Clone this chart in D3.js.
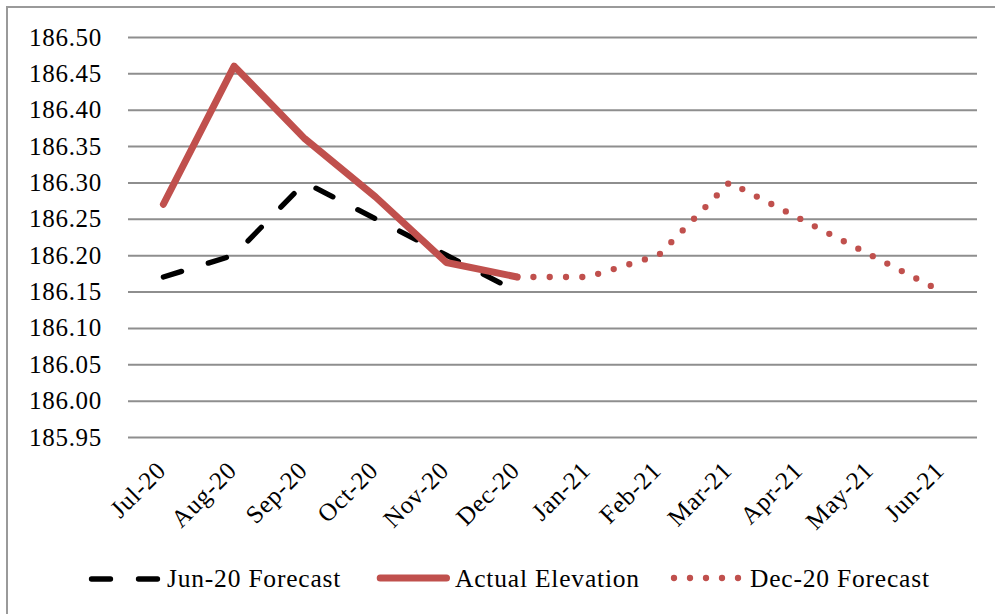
<!DOCTYPE html>
<html>
<head>
<meta charset="utf-8">
<script src="https://cdn.jsdelivr.net/npm/d3@7/dist/d3.min.js"></script>
<style>
  html, body { margin: 0; padding: 0; background: #fff; }
  svg { display: block; }
  text { font-family: "Liberation Serif", "DejaVu Serif", serif; font-size: 25px; fill: #000; letter-spacing: 0.7px; }
  .legend text { font-size: 25.5px; letter-spacing: 0.8px; }
</style>
</head>
<body>
<svg id="chart" width="995" height="614"></svg>
<script>
// Monthly lake elevation (ft): actual readings and two forecast runs
const months = ["Jul-20", "Aug-20", "Sep-20", "Oct-20", "Nov-20", "Dec-20",
                "Jan-21", "Feb-21", "Mar-21", "Apr-21", "May-21", "Jun-21"];

const jun20Forecast = [186.17, 186.20, 186.30, 186.25, 186.20, 186.15,
                       null, null, null, null, null, null];
const actualElevation = [186.27, 186.46, 186.36, 186.28, 186.19, 186.17,
                         null, null, null, null, null, null];
const dec20Forecast = [null, null, null, null, null, 186.17,
                       186.17, 186.20, 186.30, 186.25, 186.20, 186.15];

const yTicks = [185.95, 186.00, 186.05, 186.10, 186.15, 186.20,
                186.25, 186.30, 186.35, 186.40, 186.45, 186.50];

const seriesNames = ["Jun-20 Forecast", "Actual Elevation", "Dec-20 Forecast"];

const red = "#C0504D";
const svg = d3.select("#chart");

// Outer chart frame
svg.append("rect")
  .attr("x", 7).attr("y", 7)
  .attr("width", 1000).attr("height", 620)
  .attr("fill", "none")
  .attr("stroke", "#9a9a9a")
  .attr("stroke-width", 2);

const plot = { left: 128, right: 977, top: 37, bottom: 437 };

const x = d3.scaleBand().domain(months).range([plot.left, plot.right]);
const xc = m => x(m) + x.bandwidth() / 2;
const y = d3.scaleLinear().domain([185.95, 186.50]).range([plot.bottom, plot.top]);

// Horizontal gridlines and value labels
const yAxis = svg.append("g")
  .attr("transform", `translate(${plot.left},0)`)
  .call(d3.axisLeft(y)
    .tickValues(yTicks)
    .tickFormat(d3.format(".2f"))
    .tickSize(-(plot.right - plot.left))
    .tickPadding(26));
yAxis.select(".domain").remove();
yAxis.selectAll(".tick line")
  .attr("stroke", "#8e8e8e")
  .attr("stroke-width", 2);
yAxis.selectAll(".tick text")
  .attr("font-family", null)
  .attr("font-size", null)
  .attr("fill", "#000");

// Category labels, rotated
svg.append("g")
  .selectAll("text")
  .data(months)
  .join("text")
  .attr("text-anchor", "end")
  .attr("transform", d => `translate(${xc(d) + 4},${472}) rotate(-45)`)
  .text(d => d);

const line = d3.line()
  .defined(d => d.v != null)
  .x(d => xc(d.m))
  .y(d => y(d.v));

const pts = arr => months.map((m, i) => ({ m, v: arr[i] }));

// Jun-20 forecast: black long dashes
svg.append("path")
  .datum(pts(jun20Forecast))
  .attr("d", line)
  .attr("fill", "none")
  .attr("stroke", "#000")
  .attr("stroke-width", 5.3)
  .attr("stroke-linecap", "round")
  .attr("stroke-dasharray", "19 28");

// Actual elevation: thick solid red
svg.append("path")
  .datum(pts(actualElevation))
  .attr("d", line)
  .attr("fill", "none")
  .attr("stroke", red)
  .attr("stroke-width", 7)
  .attr("stroke-linejoin", "round")
  .attr("stroke-linecap", "round");

// Dec-20 forecast: red round dots
svg.append("path")
  .datum(pts(dec20Forecast))
  .attr("d", line)
  .attr("fill", "none")
  .attr("stroke", red)
  .attr("stroke-width", 6.3)
  .attr("stroke-linecap", "round")
  .attr("stroke-dasharray", "0 16.3");

// Legend
const legY = 579;
const legend = svg.append("g").attr("class", "legend");

legend.append("line")
  .attr("x1", 91.5).attr("x2", 157.5).attr("y1", legY).attr("y2", legY)
  .attr("stroke", "#000").attr("stroke-width", 5.3)
  .attr("stroke-linecap", "round").attr("stroke-dasharray", "19 28");
legend.append("text").attr("x", 167).attr("y", 587).text(seriesNames[0]);

legend.append("line")
  .attr("x1", 380.2).attr("x2", 446.5).attr("y1", legY - 1).attr("y2", legY - 1)
  .attr("stroke", red).attr("stroke-width", 7)
  .attr("stroke-linecap", "round");
legend.append("text").attr("x", 455).attr("y", 587).text(seriesNames[1]);

legend.append("line")
  .attr("x1", 674).attr("x2", 738.5).attr("y1", legY - 1).attr("y2", legY - 1)
  .attr("stroke", red).attr("stroke-width", 6.3)
  .attr("stroke-linecap", "round").attr("stroke-dasharray", "0 16");
legend.append("text").attr("x", 750).attr("y", 587).text(seriesNames[2]);
</script>
</body>
</html>
